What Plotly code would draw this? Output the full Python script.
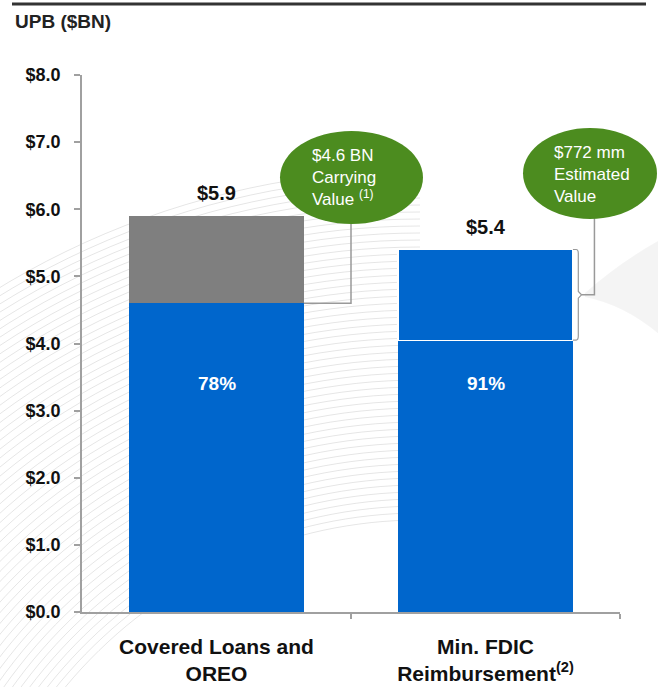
import numpy as np
import plotly.graph_objects as go

# ── data ───────────────────────────────────────────────
categories = ["<b>Covered Loans and<br>OREO</b>", "<b>Min. FDIC<br>Reimbursement<sup>(2)</sup></b>"]
base_values = [4.6, 4.05]          # lower (blue) segment
top_values = [1.3, 1.35]           # upper segment
top_colors = ["#7F7F7F", "#0066CC"]
totals = [5.9, 5.4]
total_labels = ["$5.9", "$5.4"]
pct_labels = ["78%", "91%"]
y_ticks = [0, 1, 2, 3, 4, 5, 6, 7, 8]
y_ticktext = ["$%.1f" % v for v in y_ticks]

BLUE = "#0066CC"
GREEN = "#4C8C1F"
FONT = "Liberation Sans, Arial, sans-serif"

# figure / plot area in pixels
W, H = 658, 687
L, R, T, B = 82, 620, 75, 612


def xp(px):
    return (px - L) / (R - L)


def yp(py):
    return (B - py) / (B - T)


x = list(range(len(categories)))
half = 0.325  # half bar width (bargap 0.35)

fig = go.Figure()
fig.add_trace(go.Bar(x=x, y=base_values, marker=dict(color=BLUE, line=dict(width=0)),
                     width=2 * half, hoverinfo="skip"))
fig.add_trace(go.Bar(x=x, y=top_values,
                     marker=dict(color=top_colors, line=dict(color="white", width=[0, 1.2])),
                     width=2 * half, hoverinfo="skip"))

shapes = []

# background decoration: faint concentric arcs + swoosh
cx, cy = 420, 980
for r in np.arange(460, 815, 7):
    th = np.linspace(np.pi * 0.5, np.pi * 1.0, 60)
    pts = [(cx + r * np.cos(a), cy - r * np.sin(a)) for a in th]
    pts = [(px, py) for px, py in pts if px < 440 and py < 700]
    if len(pts) < 2:
        continue
    path = "M " + " L ".join(f"{xp(px):.4f},{yp(py):.4f}" for px, py in pts)
    shapes.append(dict(type="path", path=path, xref="paper", yref="paper", layer="below",
                       line=dict(color="rgba(0,0,0,0.1)", width=1)))
shapes.append(dict(type="path", xref="paper", yref="paper", layer="below",
                   path=(f"M {xp(585):.4f},{yp(293):.4f} Q {xp(620):.4f},{yp(262):.4f} {xp(660):.4f},{yp(240):.4f} "
                         f"L {xp(660):.4f},{yp(335):.4f} Q {xp(625):.4f},{yp(305):.4f} {xp(585):.4f},{yp(297):.4f} Z"),
                   fillcolor="rgba(0,0,0,0.045)", line=dict(width=0)))

# top rule
shapes.append(dict(type="line", xref="paper", yref="paper", x0=xp(12), x1=xp(646), y0=yp(4), y1=yp(4),
                   line=dict(color="#333333", width=3)))

# bracket for bar 1 (carrying value)
shapes.append(dict(type="path", xref="x", yref="y",
                   path=f"M {half},{base_values[0]} L 0.5,{base_values[0]} L 0.5,5.9",
                   line=dict(color="#999999", width=1.5)))
# curly bracket for bar 2
b_lo, b_hi = base_values[1], totals[1]
mid = (b_lo + b_hi) / 2
xb = 1 + half
shapes.append(dict(type="path", xref="x", yref="y",
                   path=(f"M {xb},{b_hi} L {xb+0.012},{b_hi} Q {xb+0.02},{b_hi} {xb+0.02},{b_hi-0.06} "
                         f"L {xb+0.02},{mid+0.05} L {xb+0.032},{mid} L {xb+0.02},{mid-0.05} "
                         f"L {xb+0.02},{b_lo+0.06} Q {xb+0.02},{b_lo} {xb+0.012},{b_lo} L {xb},{b_lo}"),
                   line=dict(color="#999999", width=1.2)))
shapes.append(dict(type="path", xref="x", yref="y",
                   path=f"M {xb+0.032},{mid} L 1.405,{mid} L 1.405,5.95",
                   line=dict(color="#999999", width=1.5)))

# green callout ellipses
shapes.append(dict(type="circle", xref="paper", yref="paper", x0=xp(280), x1=xp(423), y0=yp(224), y1=yp(131),
                   fillcolor=GREEN, line=dict(width=0)))
shapes.append(dict(type="circle", xref="paper", yref="paper", x0=xp(523), x1=xp(657), y0=yp(219), y1=yp(128),
                   fillcolor=GREEN, line=dict(width=0)))

annotations = [
    dict(text="<b>UPB ($BN)</b>", xref="paper", yref="paper", x=xp(13), y=yp(22),
         xanchor="left", yanchor="middle", showarrow=False, font=dict(size=19, color="#222222")),
    dict(text="$4.6 BN<br>Carrying<br>Value <sup>(1)</sup>", xref="paper", yref="paper", x=xp(310), y=yp(177),
         xanchor="left", yanchor="middle", align="left", showarrow=False,
         font=dict(size=17, color="white")),
    dict(text="$772 mm<br>Estimated<br>Value", xref="paper", yref="paper", x=xp(552), y=yp(174),
         xanchor="left", yanchor="middle", align="left", showarrow=False,
         font=dict(size=17, color="white")),
]
for i in x:
    annotations.append(dict(text=f"<b>{total_labels[i]}</b>", x=i, y=totals[i], xref="x", yref="y",
                            yanchor="bottom", yshift=10, showarrow=False,
                            font=dict(size=20, color="#111111")))
    annotations.append(dict(text=f"<b>{pct_labels[i]}</b>", x=i, y=3.4, xref="x", yref="y",
                            showarrow=False, font=dict(size=19, color="white")))

fig.update_layout(
    width=W, height=H,
    barmode="stack",
    showlegend=False,
    paper_bgcolor="white",
    plot_bgcolor="rgba(0,0,0,0)",
    margin=dict(l=L, r=W - R, t=T, b=H - B, autoexpand=False),
    font=dict(family=FONT, color="#111111"),
    shapes=shapes,
    annotations=annotations,
    xaxis=dict(
        range=[-0.5, 1.5], tickvals=x, ticktext=categories, ticks="",
        tickfont=dict(size=21, color="#111111"), ticklabelstandoff=15, automargin=False,
        showline=True, linecolor="#A0A0A0", linewidth=1.5, showgrid=False, zeroline=False,
        minor=dict(tickvals=[0.5, 1.5], ticks="outside", ticklen=5, tickcolor="#A0A0A0", tickwidth=1.5),
    ),
    yaxis=dict(
        range=[0, 8], tickvals=y_ticks, ticktext=[f"<b>{t}</b>" for t in y_ticktext],
        ticks="outside", ticklen=6, tickcolor="#A0A0A0", tickwidth=1.5, automargin=False,
        tickfont=dict(size=18, color="#111111"), ticklabelstandoff=10,
        showline=True, linecolor="#A0A0A0", linewidth=1.5, showgrid=False, zeroline=False,
    ),
)

fig.write_html("out.html", config={"displayModeBar": False},
               post_script="document.body.style.margin='0';")
